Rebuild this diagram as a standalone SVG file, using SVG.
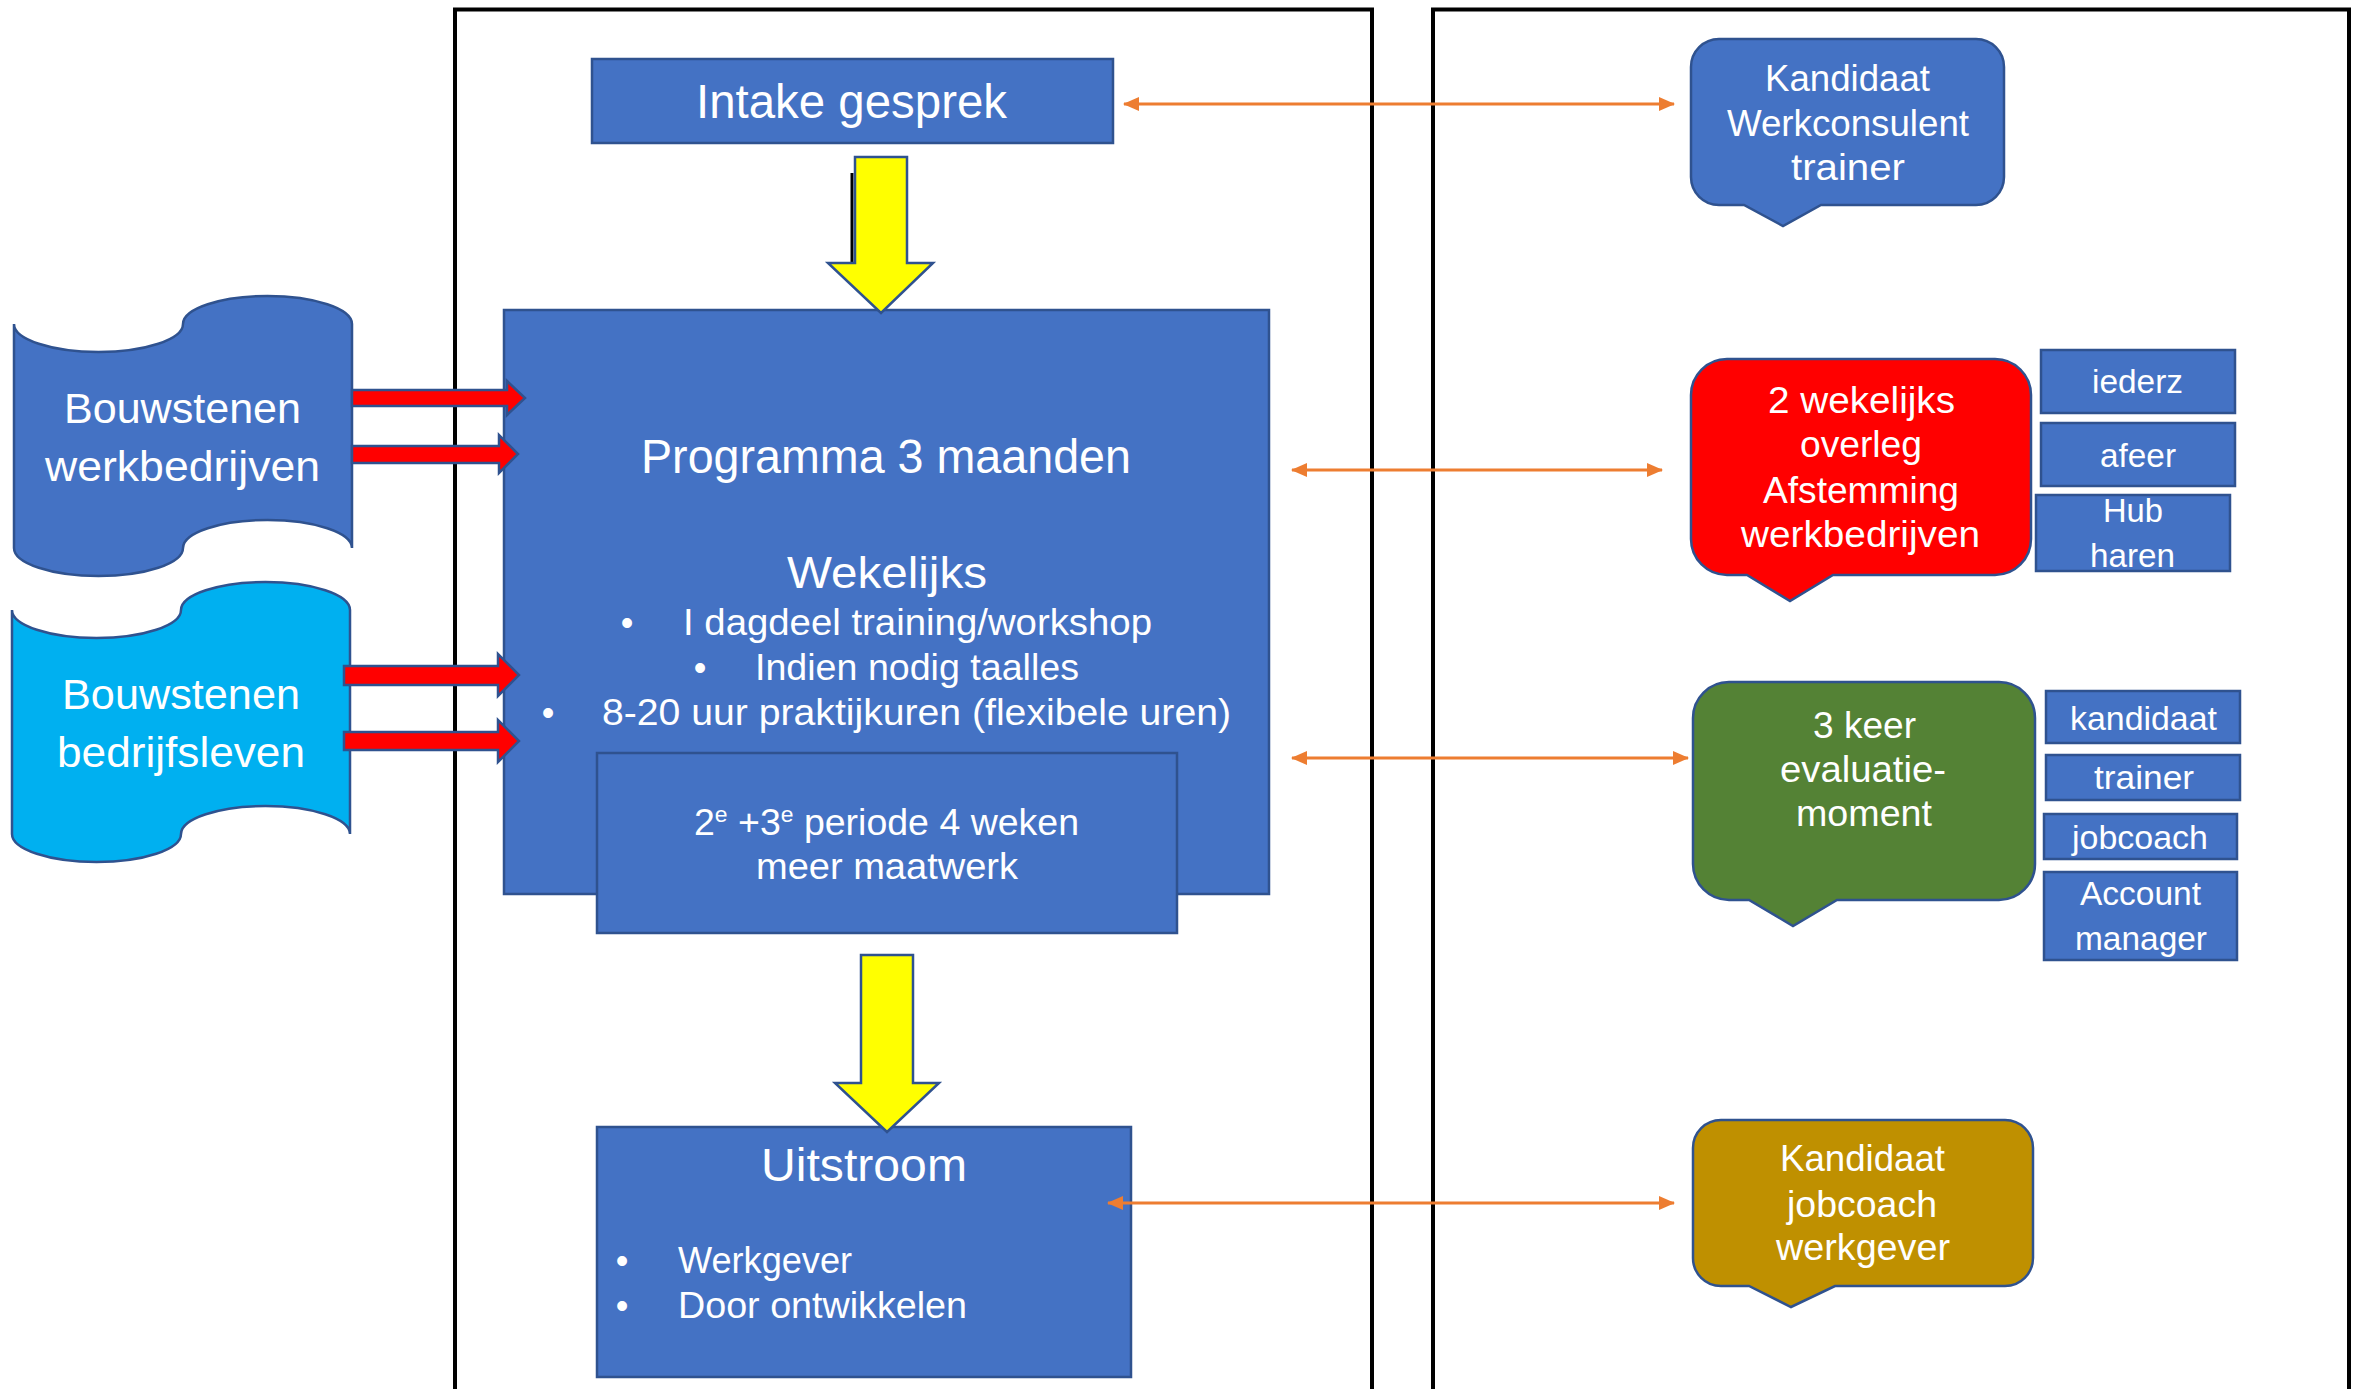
<svg xmlns="http://www.w3.org/2000/svg" width="2361" height="1389" viewBox="0 0 2361 1389">
<style>
.t{font-family:"Liberation Sans","Noto Sans",sans-serif;fill:#FFFFFF;}
.box{fill:#4472C4;stroke:#2F528F;stroke-width:2.5;}
.frame{fill:none;stroke:#000000;stroke-width:4;}
.tape{stroke:#2F528F;stroke-width:2.5;}
.bub{stroke:#2F528F;stroke-width:2.5;}
.yel{fill:#FFFF00;stroke:#2F528F;stroke-width:2.5;stroke-linejoin:miter;}
.red{fill:#FF0000;stroke:#2F528F;stroke-width:2.5;}
.org{stroke:#ED7D31;stroke-width:3;fill:none;marker-start:url(#oa);marker-end:url(#oa);}
</style>
<defs>
<marker id="oa" viewBox="0 0 16 14" refX="15" refY="7" markerWidth="16" markerHeight="14" markerUnits="userSpaceOnUse" orient="auto-start-reverse">
<path d="M0,0 L16,7 L0,14 Z" fill="#ED7D31"/>
</marker>
</defs>
<rect width="2361" height="1389" fill="#FFFFFF"/>
<g id="frames">
<path class="frame" d="M455,1392 V9.5 H1372 V1392"/>
<path class="frame" d="M1433,1392 V9.5 H2349 V1392"/>
</g>
<g id="bouwstenen-werkbedrijven">
<path class="tape" fill="#4472C4" d="M14,324 A84.5,28 0 0 0 183,324 A84.5,28 0 0 1 352,324 L352,548 A84.5,28 0 0 0 183,548 A84.5,28 0 0 1 14,548 Z"/>
<text class="t" font-size="42" x="64" y="423" textLength="237" lengthAdjust="spacingAndGlyphs">Bouwstenen</text>
<text class="t" font-size="42" x="45" y="481" textLength="275" lengthAdjust="spacingAndGlyphs">werkbedrijven</text>
</g>
<g id="bouwstenen-bedrijfsleven">
<path class="tape" fill="#00B0F0" d="M12,610 A84.5,28 0 0 0 181,610 A84.5,28 0 0 1 350,610 L350,834 A84.5,28 0 0 0 181,834 A84.5,28 0 0 1 12,834 Z"/>
<text class="t" font-size="42" x="62" y="709" textLength="238" lengthAdjust="spacingAndGlyphs">Bouwstenen</text>
<text class="t" font-size="42" x="57" y="767" textLength="248" lengthAdjust="spacingAndGlyphs">bedrijfsleven</text>
</g>
<g id="intake">
<rect class="box" x="592" y="59" width="521" height="84"/>
<text class="t" font-size="48" x="696" y="118" textLength="311" lengthAdjust="spacingAndGlyphs">Intake gesprek</text>
</g>
<g id="programma">
<rect class="box" x="504" y="310" width="765" height="584"/>
<text class="t" font-size="48" x="641" y="473" textLength="490" lengthAdjust="spacingAndGlyphs">Programma 3 maanden</text>
<text class="t" font-size="44" x="787" y="588" textLength="200" lengthAdjust="spacingAndGlyphs">Wekelijks</text>
<text class="t" font-size="36" x="627" y="635" text-anchor="middle">•</text>
<text class="t" font-size="36" x="683" y="635" textLength="469" lengthAdjust="spacingAndGlyphs">I dagdeel training/workshop</text>
<text class="t" font-size="36" x="700" y="680" text-anchor="middle">•</text>
<text class="t" font-size="36" x="755" y="680" textLength="324" lengthAdjust="spacingAndGlyphs">Indien nodig taalles</text>
<text class="t" font-size="36" x="548" y="725" text-anchor="middle">•</text>
<text class="t" font-size="36" x="602" y="725" textLength="629" lengthAdjust="spacingAndGlyphs">8-20 uur praktijkuren (flexibele uren)</text>
</g>
<g id="periode">
<rect class="box" x="597" y="753" width="580" height="180"/>
<text class="t" font-size="36" x="694" y="835" textLength="385" lengthAdjust="spacingAndGlyphs">2<tspan font-size="22" dy="-13">e</tspan><tspan dy="13"> +3</tspan><tspan font-size="22" dy="-13">e</tspan><tspan dy="13"> periode 4 weken</tspan></text>
<text class="t" font-size="36" x="756" y="879" textLength="262" lengthAdjust="spacingAndGlyphs">meer maatwerk</text>
</g>
<g id="uitstroom">
<rect class="box" x="597" y="1127" width="534" height="250"/>
<text class="t" font-size="46" x="761" y="1181" textLength="206" lengthAdjust="spacingAndGlyphs">Uitstroom</text>
<text class="t" font-size="36" x="622" y="1273" text-anchor="middle">•</text>
<text class="t" font-size="36" x="678" y="1273" textLength="174" lengthAdjust="spacingAndGlyphs">Werkgever</text>
<text class="t" font-size="36" x="622" y="1318" text-anchor="middle">•</text>
<text class="t" font-size="36" x="678" y="1318" textLength="289" lengthAdjust="spacingAndGlyphs">Door ontwikkelen</text>
</g>
<g id="callout-intake">
<path class="bub" fill="#4472C4" d="M1719,39 H1976 A28,28 0 0 1 2004,67 V177 A28,28 0 0 1 1976,205 H1821 L1783,226 L1744,205 H1719 A28,28 0 0 1 1691,177 V67 A28,28 0 0 1 1719,39 Z"/>
<text class="t" font-size="36" x="1765" y="91" textLength="165" lengthAdjust="spacingAndGlyphs">Kandidaat</text>
<text class="t" font-size="36" x="1727" y="136" textLength="242" lengthAdjust="spacingAndGlyphs">Werkconsulent</text>
<text class="t" font-size="36" x="1791" y="180" textLength="114" lengthAdjust="spacingAndGlyphs">trainer</text>
</g>
<g id="callout-overleg">
<path class="bub" fill="#FF0000" d="M1727,359 H1995 A36,36 0 0 1 2031,395 V539 A36,36 0 0 1 1995,575 H1833 L1790,601 L1747,575 H1727 A36,36 0 0 1 1691,539 V395 A36,36 0 0 1 1727,359 Z"/>
<text class="t" font-size="36" x="1768" y="413" textLength="187" lengthAdjust="spacingAndGlyphs">2 wekelijks</text>
<text class="t" font-size="36" x="1800" y="457" textLength="122" lengthAdjust="spacingAndGlyphs">overleg</text>
<text class="t" font-size="36" x="1763" y="503" textLength="196" lengthAdjust="spacingAndGlyphs">Afstemming</text>
<text class="t" font-size="36" x="1741" y="547" textLength="239" lengthAdjust="spacingAndGlyphs">werkbedrijven</text>
</g>
<g id="iederz">
<rect class="box" x="2041" y="350" width="194" height="63"/>
<text class="t" font-size="34" x="2092" y="393" textLength="91" lengthAdjust="spacingAndGlyphs">iederz</text>
</g>
<g id="afeer">
<rect class="box" x="2041" y="423" width="194" height="63"/>
<text class="t" font-size="34" x="2100" y="467" textLength="76" lengthAdjust="spacingAndGlyphs">afeer</text>
</g>
<g id="hub-haren">
<rect class="box" x="2036" y="495" width="194" height="76"/>
<text class="t" font-size="34" x="2103" y="522" textLength="60" lengthAdjust="spacingAndGlyphs">Hub</text>
<text class="t" font-size="34" x="2090" y="567" textLength="85" lengthAdjust="spacingAndGlyphs">haren</text>
</g>
<g id="callout-evaluatie">
<path class="bub" fill="#548235" d="M1729,682 H1999 A36,36 0 0 1 2035,718 V864 A36,36 0 0 1 1999,900 H1837 L1793,926 L1749,900 H1729 A36,36 0 0 1 1693,864 V718 A36,36 0 0 1 1729,682 Z"/>
<text class="t" font-size="36" x="1813" y="738" textLength="103" lengthAdjust="spacingAndGlyphs">3 keer</text>
<text class="t" font-size="36" x="1780" y="782" textLength="166" lengthAdjust="spacingAndGlyphs">evaluatie-</text>
<text class="t" font-size="36" x="1796" y="826" textLength="136" lengthAdjust="spacingAndGlyphs">moment</text>
</g>
<g id="kandidaat">
<rect class="box" x="2046" y="691" width="194" height="52"/>
<text class="t" font-size="34" x="2070" y="730" textLength="147" lengthAdjust="spacingAndGlyphs">kandidaat</text>
</g>
<g id="trainer">
<rect class="box" x="2046" y="755" width="194" height="45"/>
<text class="t" font-size="34" x="2094" y="789" textLength="100" lengthAdjust="spacingAndGlyphs">trainer</text>
</g>
<g id="jobcoach">
<rect class="box" x="2044" y="814" width="193" height="45"/>
<text class="t" font-size="34" x="2072" y="849" textLength="136" lengthAdjust="spacingAndGlyphs">jobcoach</text>
</g>
<g id="account-manager">
<rect class="box" x="2044" y="872" width="193" height="88"/>
<text class="t" font-size="34" x="2080" y="905" textLength="121" lengthAdjust="spacingAndGlyphs">Account</text>
<text class="t" font-size="34" x="2075" y="950" textLength="132" lengthAdjust="spacingAndGlyphs">manager</text>
</g>
<g id="callout-uitstroom">
<path class="bub" fill="#BF9000" d="M1721,1120 H2005 A28,28 0 0 1 2033,1148 V1258 A28,28 0 0 1 2005,1286 H1835 L1791,1307 L1749,1286 H1721 A28,28 0 0 1 1693,1258 V1148 A28,28 0 0 1 1721,1120 Z"/>
<text class="t" font-size="36" x="1780" y="1171" textLength="165" lengthAdjust="spacingAndGlyphs">Kandidaat</text>
<text class="t" font-size="36" x="1787" y="1217" textLength="150" lengthAdjust="spacingAndGlyphs">jobcoach</text>
<text class="t" font-size="36" x="1776" y="1260" textLength="174" lengthAdjust="spacingAndGlyphs">werkgever</text>
</g>
<g id="connectors">
<line x1="852" y1="173" x2="852" y2="262" stroke="#000000" stroke-width="3"/>
<polygon class="yel" points="855,157 907,157 907,263 933,263 881,313 828,263 855,263"/>
<polygon class="yel" points="861,955 913,955 913,1083 939,1083 887,1132 835,1083 861,1083"/>
<polygon class="red" points="352,390 507,390 507,381 525,398 507,415 507,406 352,406"/>
<polygon class="red" points="352,446 499,446 499,435 518,454 499,473 499,463 352,463"/>
<polygon class="red" points="344,666 498,666 498,654 519,675 498,696 498,685 344,685"/>
<polygon class="red" points="344,732 498,732 498,720 519,741 498,762 498,750 344,750"/>
<line class="org" x1="1124" y1="104" x2="1674" y2="104"/>
<line class="org" x1="1292" y1="470" x2="1662" y2="470"/>
<line class="org" x1="1292" y1="758" x2="1688" y2="758"/>
<line class="org" x1="1108" y1="1203" x2="1674" y2="1203"/>
</g>
</svg>
